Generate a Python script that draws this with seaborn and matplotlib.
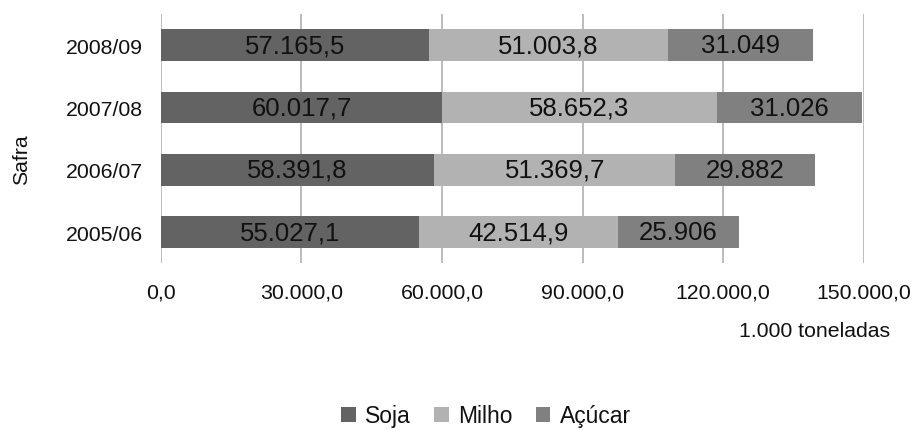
import matplotlib
matplotlib.use("Agg")
import matplotlib.pyplot as plt
import seaborn as sns
import pandas as pd
import numpy as np
from matplotlib.patches import Patch

safras = ["2008/09", "2007/08", "2006/07", "2005/06"]
soja = [57165.5, 60017.7, 58391.8, 55027.1]
milho = [51003.8, 58652.3, 51369.7, 42514.9]
acucar = [31049, 31026, 29882, 25906]
soja_lbl = ["57.165,5", "60.017,7", "58.391,8", "55.027,1"]
milho_lbl = ["51.003,8", "58.652,3", "51.369,7", "42.514,9"]
acucar_lbl = ["31.049", "31.026", "29.882", "25.906"]
xticks = [0, 30000, 60000, 90000, 120000, 150000]
xtick_lbl = ["0,0", "30.000,0", "60.000,0", "90.000,0", "120.000,0", "150.000,0"]
series = ["Soja", "Milho", "Açúcar"]
colors = ["#636363", "#b2b2b2", "#808080"]

sns.set_theme(style="white")
plt.rcParams["font.family"] = ["Liberation Sans", "DejaVu Sans"]

df = pd.DataFrame({"Safra": safras, "Soja": soja, "Milho": milho, "Açúcar": acucar})
df["c1"] = df["Soja"]
df["c2"] = df["Soja"] + df["Milho"]
df["c3"] = df["c2"] + df["Açúcar"]

fig = plt.figure(figsize=(9.14, 4.31), dpi=100)
ax = fig.add_axes([0.176, 0.387, 0.769, 0.578])

for col, c in zip(["c3", "c2", "c1"], [colors[2], colors[1], colors[0]]):
    sns.barplot(data=df, y="Safra", x=col, order=safras, orient="h",
                color=c, width=0.51, saturation=1, ax=ax, zorder=3, linewidth=0)

fs_bar = 18.5
for i in range(len(safras)):
    ax.text(df["Soja"][i] / 2, i, soja_lbl[i], ha="center", va="center",
            fontsize=fs_bar, color="#111111", zorder=5)
    ax.text(df["c1"][i] + df["Milho"][i] / 2, i, milho_lbl[i], ha="center", va="center",
            fontsize=fs_bar, color="#111111", zorder=5)
    ax.text(df["c2"][i] + df["Açúcar"][i] / 2, i, acucar_lbl[i], ha="center", va="center",
            fontsize=fs_bar, color="#111111", zorder=5)

ax.set_xlim(0, 150000)
ax.set_ylim(3.5, -0.5)
ax.set_xticks(xticks)
ax.set_xticklabels(xtick_lbl)
ax.tick_params(axis="both", length=0, labelsize=15.3, colors="#111111")
ax.tick_params(axis="y", pad=13)
ax.tick_params(axis="x", pad=14)
for s in ax.spines.values():
    s.set_visible(False)
ax.grid(axis="x", color="#b0b0b0", linewidth=1.2, zorder=0)
ax.grid(axis="y", visible=False)

ax.set_xlabel("1.000 toneladas", fontsize=15.3, color="#111111", ha="right")
ax.xaxis.set_label_coords(1.038, -0.23)
ax.set_ylabel("Safra", fontsize=15.3, color="#111111")
ax.yaxis.set_label_coords(-0.185, 0.418)

handles = [Patch(facecolor=c, edgecolor="none", label=s) for s, c in zip(series, colors)]
fig.legend(handles=handles, loc="center", bbox_to_anchor=(486 / 914, 1 - 417 / 431),
           ncol=3, frameon=False, fontsize=16.5, handlelength=0.65, handleheight=0.65,
           handletextpad=0.4, columnspacing=1.0, labelcolor="#111111")

fig.savefig("out.png", dpi=100)
